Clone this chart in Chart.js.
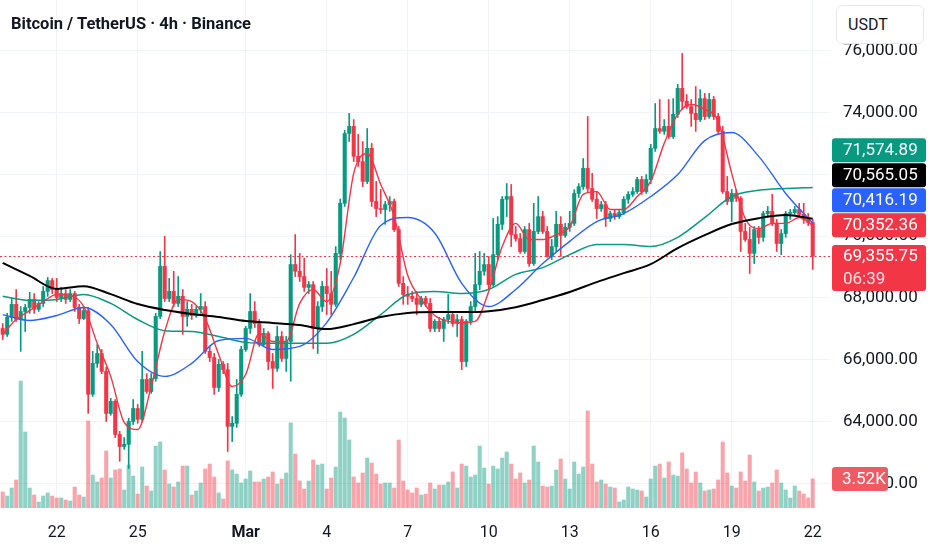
<!DOCTYPE html>
<html lang="en">
<head>
<meta charset="UTF-8">
<title>Bitcoin / TetherUS · 4h · Binance</title>
<script src="https://cdn.jsdelivr.net/npm/chart.js"></script>
<style>
    body {
        margin: 0;
        background: #ffffff;
        font-family: Roboto, "Noto Sans", sans-serif;
        color: #131722;
    }

    .wrap {
        position: relative;
        width: 932px;
        height: 550px;
        overflow: hidden;
    }

    #chart {
        position: absolute;
        left: 0;
        top: 0;
    }

    /* symbol line, top left */
    .title {
        position: absolute;
        left: 11px;
        top: 14px;
        font-size: 16.5px;
        font-weight: bold;
        line-height: 20px;
        white-space: nowrap;
    }

    /* currency button over the price scale */
    .unit {
        position: absolute;
        left: 836px;
        top: 5px;
        width: 88px;
        height: 39px;
        box-sizing: border-box;
        border: 1px solid #e6e8ee;
        border-radius: 6px;
        background: #ffffff;
        font-size: 16px;
        line-height: 37px;
        padding-left: 11px;
    }
</style>
</head>
<body>
<div class="wrap">
    <canvas id="chart" width="932" height="550"></canvas>
    <div class="title">Bitcoin / TetherUS &middot; 4h &middot; Binance</div>
    <div class="unit">USDT</div>
</div>

<script>
// 4h candles, 20 Feb 00:00 -> 22 Mar 00:00 (one row = 10 candles)
const opens = [
    67010, 66820, 67370, 67790, 67300, 67560, 67690, 67950, 67630, 67820,
    68210, 68560, 68270, 68010, 68140, 67950, 68140, 67690, 67330, 67590,
    64880, 65880, 66200, 65620, 64260, 64650, 63580, 63190, 63260, 64000,
    64420, 64070, 65360, 64970, 65390, 67400, 69020, 67980, 68210, 67820,
    68050, 67400, 67630, 67430, 67630, 67720, 66270, 66070, 65100, 65850,
    65680, 63840, 63940, 64880, 66330, 67010, 67560, 67170, 66490, 66850,
    65940, 65720, 66750, 66040, 66590, 69080, 68860, 68690, 68340, 68430,
    67010, 67720, 68370, 68140, 67790, 69440, 71060, 73320, 73550, 72580,
    72410, 71770, 72840, 71120, 70890, 70860, 71020, 71120, 70210, 68470,
    68110, 68050, 67980, 67790, 67980, 67820, 67010, 67240, 67010, 67300,
    67460, 67170, 67300, 65940, 67240, 67720, 68430, 68860, 69080, 68430,
    69400, 70380, 71190, 71280, 70050, 69920, 69500, 70210, 69110, 70150,
    70630, 70150, 69340, 69660, 70380, 70020, 70280, 70410, 71380, 71600,
    72190, 71540, 71190, 70890, 71020, 70570, 70730, 70630, 70760, 71190,
    71350, 71440, 71830, 71440, 71830, 72840, 73480, 73390, 73550, 73220,
    73940, 74780, 74360, 74190, 73970, 73770, 74450, 73870, 74420, 73870,
    73390, 71440, 71120, 71380, 71220, 70150, 69890, 69440, 70210, 69960,
    70730, 70800, 70410, 69760, 70080, 70730, 70760, 70860, 70700, 70540,
    70440
];
const highs = [
    67170, 67500, 67980, 68270, 67720, 67790, 68180, 68140, 67880, 68370,
    68660, 68630, 68630, 68340, 68270, 68270, 68210, 67790, 67720, 67690,
    66270, 66490, 66330, 65750, 64750, 64710, 63680, 63480, 64100, 64710,
    64550, 66270, 65550, 65550, 67500, 69500, 69990, 68630, 68860, 68690,
    68270, 67880, 67790, 67720, 68140, 67880, 66430, 66200, 66010, 65940,
    65880, 64160, 65360, 66430, 67080, 68140, 67880, 67300, 67010, 66910,
    66200, 67080, 66910, 66750, 69400, 70050, 69440, 69280, 68530, 68530,
    67880, 68530, 68950, 68860, 69660, 71200, 73420, 73970, 73770, 73290,
    73060, 73480, 73000, 71770, 71510, 71120, 71280, 71200, 70310, 68690,
    68370, 68210, 68210, 68050, 68050, 67980, 67300, 67370, 67370, 68110,
    67560, 67460, 67400, 67300, 67880, 69440, 69500, 69440, 69340, 70570,
    70630, 71280, 71700, 71670, 70310, 70080, 70310, 70410, 71060, 71280,
    70800, 70310, 69890, 70800, 70630, 70410, 70800, 71500, 71700, 72510,
    73870, 72030, 71440, 71120, 71120, 70800, 70860, 70860, 71280, 71440,
    71570, 71900, 71930, 71990, 72970, 74290, 74420, 73770, 74420, 74450,
    74910, 75910, 74580, 74420, 74840, 74740, 74620, 74620, 74520, 73970,
    73550, 71930, 71510, 71510, 71280, 70410, 70280, 70310, 70310, 70800,
    70960, 71350, 70540, 70210, 70800, 70860, 70960, 71060, 71060, 70730,
    70540
];
const lows = [
    66650, 66750, 67240, 67240, 66270, 66910, 67500, 67500, 67560, 67720,
    68050, 68140, 67880, 67880, 67820, 67880, 67560, 67170, 67300, 64260,
    64810, 65750, 65550, 64000, 64200, 63480, 62710, 63100, 62480, 63900,
    63940, 64000, 64910, 64910, 65300, 67330, 67880, 67880, 67720, 67720,
    66820, 67080, 67300, 67370, 67500, 66200, 65940, 64880, 64970, 65550,
    63030, 63350, 63810, 64810, 66270, 66850, 67040, 66430, 66430, 65680,
    65070, 65620, 65940, 65620, 65300, 68690, 68530, 68210, 68140, 66360,
    66200, 67560, 67460, 67460, 67720, 69240, 70960, 73060, 72410, 72250,
    71600, 71700, 70960, 70630, 70730, 70380, 70800, 70150, 68370, 67790,
    67790, 67880, 67460, 67720, 67720, 66910, 66910, 66910, 66590, 67170,
    67080, 66750, 65680, 65780, 67140, 67560, 68270, 68730, 68270, 68370,
    69240, 70210, 70630, 69660, 69830, 69440, 69440, 69020, 69050, 70080,
    70080, 69310, 69240, 69500, 69340, 69960, 70150, 70340, 71250, 71510,
    71440, 71120, 70570, 70800, 70310, 70470, 70540, 70570, 70700, 71060,
    71280, 71380, 71350, 71380, 71700, 72740, 73320, 73290, 73160, 73160,
    73840, 74100, 74130, 73550, 73390, 73710, 73770, 73810, 73770, 73320,
    71380, 71020, 70470, 71120, 69500, 69830, 68790, 69110, 69760, 69830,
    70600, 70340, 69500, 69400, 69960, 70540, 70700, 70630, 70410, 70340,
    68920
];
const closes = [
    66820, 67370, 67790, 67300, 67560, 67690, 67950, 67630, 67820, 68210,
    68560, 68270, 68010, 68140, 67950, 68140, 67690, 67330, 67590, 64880,
    65880, 66200, 65620, 64260, 64650, 63580, 63190, 63260, 64000, 64420,
    64070, 65360, 64970, 65390, 67400, 69020, 67980, 68210, 67820, 68050,
    67400, 67630, 67430, 67630, 67720, 66270, 66070, 65100, 65850, 65680,
    63840, 63940, 64880, 66330, 67010, 67560, 67170, 66490, 66850, 65940,
    65720, 66750, 66040, 66590, 69080, 68860, 68690, 68340, 68430, 67010,
    67720, 68370, 68140, 67790, 69440, 71060, 73320, 73550, 72580, 72410,
    71770, 72840, 71120, 70890, 70860, 71020, 71120, 70210, 68470, 68110,
    68050, 67980, 67790, 67980, 67820, 67010, 67240, 67010, 67300, 67460,
    67170, 67300, 65940, 67240, 67720, 68430, 68860, 69080, 68430, 69400,
    70380, 71190, 71280, 70050, 69920, 69500, 70210, 69110, 70150, 70630,
    70150, 69340, 69660, 70380, 70020, 70280, 70410, 71380, 71600, 72190,
    71540, 71190, 70890, 71020, 70570, 70730, 70630, 70760, 71190, 71350,
    71440, 71830, 71440, 71830, 72840, 73480, 73390, 73550, 73220, 73940,
    74780, 74360, 74190, 73970, 73770, 74450, 73870, 74420, 73870, 73390,
    71440, 71120, 71380, 71220, 70150, 69890, 69440, 70210, 69960, 70730,
    70800, 70410, 69760, 70080, 70730, 70760, 70860, 70700, 70540, 70440,
    69355.75
];
const volumes = [
    1940, 1450, 2420, 3390, 15370, 9200, 2420, 1570, 730, 1450,
    1820, 1450, 1210, 1210, 970, 850, 2540, 1570, 1330, 10530,
    3990, 3150, 3630, 6900, 3630, 4600, 4720, 2180, 5200, 3870,
    1690, 4960, 2660, 2060, 7500, 7990, 4600, 2900, 2540, 3150,
    5080, 5080, 1570, 2060, 3030, 4720, 5320, 3750, 1820, 1090,
    5690, 4600, 4110, 3030, 3510, 4480, 3150, 3150, 3510, 3750,
    4360, 2900, 3510, 4240, 10290, 6530, 3270, 2300, 3270, 5810,
    5200, 5320, 2300, 3630, 4960, 11620, 10890, 8230, 3750, 3030,
    4240, 6050, 5450, 4110, 2900, 3030, 3030, 2420, 8230, 3270,
    2180, 1820, 2420, 1570, 1690, 3030, 2300, 2780, 2780, 3150,
    4360, 2420, 5320, 5080, 3750, 3990, 7500, 4840, 2900, 5080,
    4720, 6050, 6780, 5320, 3510, 4240, 3030, 3390, 7500, 5570,
    2660, 2540, 2660, 4600, 5930, 3510, 2300, 5570, 4110, 4960,
    11740, 5320, 3150, 3390, 2900, 2540, 2420, 730, 970, 2540,
    2300, 2180, 2060, 1330, 3510, 5080, 5320, 3630, 5570, 3990,
    3870, 6660, 4720, 3030, 4360, 3030, 2060, 2180, 2300, 3390,
    7990, 4240, 2660, 2420, 4360, 3270, 6410, 3150, 2060, 2420,
    2540, 3030, 4600, 3030, 2180, 1210, 2660, 2060, 1690, 1210,
    3520
];

// moving averages: red every 3 candles, the others once a day
const maFast = [
    66820, 67300, 67590, 67880, 68110, 68080, 67720, 66530, 65460, 63970,
    63740, 65130, 66910, 67950, 67880, 67330, 66170, 65130, 65520, 66850,
    66590, 66590, 67820, 68270, 67880, 69110, 72030, 72670, 71670, 70630,
    68730, 67950, 67430, 67240, 67200, 67240, 68210, 69660, 70410, 69890,
    69890, 70050, 70310, 71350, 71440, 70860, 70860, 71280, 71770, 73000,
    73940, 74260, 74100, 73710, 72030, 70570, 70240, 70410, 70410, 70600,
    70352.36
];
const maBlue = [
    67460, 67270, 67430, 67690, 67140, 65940, 65460, 65880, 66620, 66690,
    66330, 66430, 67200, 68660, 70340, 70600, 70100, 68470, 67720, 68270,
    69110, 69830, 70470, 70730, 71280, 71990, 73090, 73350, 72580, 71380,
    70416.19
];
const maGreen = [
    68050, 67920, 67950, 68110, 67820, 67300, 66940, 66910, 66750, 66560,
    66530, 66530, 66530, 66820, 67460, 68110, 68210, 68140, 68270, 68760,
    68980, 69400, 69730, 69730, 69660, 69960, 70600, 71280, 71480, 71540,
    71574.89
];
const maBlack = [
    69130, 68710, 68290, 68380, 68120, 67800, 67610, 67480, 67380, 67250,
    67190, 67120, 66990, 67150, 67380, 67510, 67540, 67540, 67570, 67700,
    67930, 68190, 68510, 68800, 69090, 69610, 70030, 70390, 70580, 70680,
    70565.05
];

const priceTicks = [62000, 64000, 66000, 68000, 70000, 72000, 74000, 76000];
const dayTickIdx = [12, 30, 54, 72, 90, 108, 126, 144, 162, 180];
const dayLabels = ['22', '25', 'Mar', '4', '7', '10', '13', '16', '19', '22'];
const countdown = '06:39';

const GREEN = '#089981';
const RED = '#f23645';
const BLUE = '#2962ff';
const GRID = '#f0f3fa';

const up = closes.map((c, i) => c >= opens[i]);
const candleColors = up.map(u => u ? GREEN : RED);
const volColors = up.map(u => u ? 'rgba(8, 153, 129, 0.45)' : 'rgba(242, 54, 69, 0.45)');

const fmt = v => v.toLocaleString('en-US', { minimumFractionDigits: 2, maximumFractionDigits: 2 });

function box(ctx, x, y, w, h, r, fill) {
    ctx.fillStyle = fill;
    ctx.beginPath();
    ctx.moveTo(x + r, y);
    ctx.lineTo(x + w - r, y);
    ctx.quadraticCurveTo(x + w, y, x + w, y + r);
    ctx.lineTo(x + w, y + h - r);
    ctx.quadraticCurveTo(x + w, y + h, x + w - r, y + h);
    ctx.lineTo(x + r, y + h);
    ctx.quadraticCurveTo(x, y + h, x, y + h - r);
    ctx.lineTo(x, y + r);
    ctx.quadraticCurveTo(x, y, x + r, y);
    ctx.fill();
}

// last price line + labels on the price scale
const overlay = {
    id: 'overlay',
    beforeDatasetsDraw(chart) {
        const { ctx, chartArea, scales } = chart;
        const py = Math.round(scales.y.getPixelForValue(closes[closes.length - 1])) + 0.5;
        ctx.save();
        ctx.strokeStyle = RED;
        ctx.lineWidth = 1.2;
        ctx.setLineDash([2, 2.5]);
        ctx.beginPath();
        ctx.moveTo(chartArea.left, py);
        ctx.lineTo(chartArea.right, py);
        ctx.stroke();
        ctx.restore();
    },
    afterDraw(chart) {
        const { ctx, chartArea, scales } = chart;
        const x0 = chartArea.right + 2;
        const w = 94;
        const last = closes[closes.length - 1];
        ctx.save();
        ctx.font = '17px Roboto, "Noto Sans", sans-serif';
        ctx.textBaseline = 'middle';
        ctx.textAlign = 'left';

        // current price, two lines
        const py = scales.y.getPixelForValue(last);
        let top = py - 11;
        box(ctx, x0, top, w, 46, 3, RED);
        ctx.fillStyle = '#ffffff';
        ctx.fillText(fmt(last), x0 + 11, py + 1);
        ctx.fillStyle = 'rgba(255,255,255,0.85)';
        ctx.fillText(countdown, x0 + 11, py + 24);

        // indicator values, pushed up so they do not overlap
        const tags = [
            { v: maFast[maFast.length - 1], c: RED },
            { v: maBlue[maBlue.length - 1], c: BLUE },
            { v: maBlack[maBlack.length - 1], c: '#000000' },
            { v: maGreen[maGreen.length - 1], c: GREEN }
        ];
        tags.forEach(t => {
            const cy = Math.min(scales.y.getPixelForValue(t.v), top - 13);
            top = cy - 12;
            box(ctx, x0, top, w, 24, 3, t.c);
            ctx.fillStyle = '#ffffff';
            ctx.fillText(fmt(t.v), x0 + 11, cy + 1);
        });

        // volume of the last bar
        const vy = scales.vol.getPixelForValue(volumes[volumes.length - 1]);
        box(ctx, x0, vy - 12, 56, 24, 3, '#f05a62');
        ctx.fillStyle = '#ffffff';
        ctx.fillText((volumes[volumes.length - 1] / 1000).toFixed(2) + 'K', x0 + 10, vy + 1);
        ctx.restore();
    }
};

const idx = opens.map((o, i) => i);

new Chart(document.getElementById('chart'), {
    type: 'bar',
    data: {
        datasets: [
            {
                type: 'line', label: 'MA fast',
                data: maFast.map((v, k) => ({ x: k * 3, y: v })),
                borderColor: RED, borderWidth: 1.4, pointRadius: 0,
                cubicInterpolationMode: 'monotone', order: 2
            },
            {
                type: 'line', label: 'MA blue',
                data: maBlue.map((v, k) => ({ x: k * 6, y: v })),
                borderColor: BLUE, borderWidth: 1.4, pointRadius: 0,
                cubicInterpolationMode: 'monotone', order: 3
            },
            {
                type: 'line', label: 'MA green',
                data: maGreen.map((v, k) => ({ x: k * 6, y: v })),
                borderColor: GREEN, borderWidth: 1.5, pointRadius: 0,
                cubicInterpolationMode: 'monotone', order: 4
            },
            {
                type: 'line', label: 'MA black',
                data: maBlack.map((v, k) => ({ x: k * 6, y: v })),
                borderColor: '#000000', borderWidth: 2, pointRadius: 0,
                cubicInterpolationMode: 'monotone', order: 1
            },
            {
                label: 'body',
                data: idx.map(i => ({ x: i, y: [opens[i], closes[i]] })),
                backgroundColor: candleColors,
                barThickness: 3.4, minBarLength: 1, grouped: false, order: 5
            },
            {
                label: 'wick',
                data: idx.map(i => ({ x: i, y: [lows[i], highs[i]] })),
                backgroundColor: candleColors,
                barThickness: 1, grouped: false, order: 6
            },
            {
                label: 'volume', yAxisID: 'vol',
                data: idx.map(i => ({ x: i, y: volumes[i] })),
                backgroundColor: volColors,
                barThickness: 3.4, grouped: false, order: 10
            }
        ]
    },
    options: {
        responsive: false,
        animation: false,
        events: [],
        layout: { padding: 0, autoPadding: false },
        plugins: {
            legend: { display: false },
            tooltip: { enabled: false }
        },
        scales: {
            x: {
                type: 'linear',
                min: -0.6,
                max: 183.84,
                offset: false,
                afterBuildTicks: s => { s.ticks = dayTickIdx.map(v => ({ value: v })); },
                afterFit: s => {
                    s.height = 42;
                    s.paddingLeft = 0;
                    s.paddingRight = 0;
                },
                grid: { color: GRID, drawTicks: false, offset: false },
                border: { display: false },
                ticks: {
                    padding: 15,
                    color: '#131722',
                    maxRotation: 0,
                    autoSkip: false,
                    font: c => ({
                        family: 'Roboto, "Noto Sans", sans-serif',
                        size: 16,
                        weight: dayLabels[c.index] === 'Mar' ? 'bold' : 'normal'
                    }),
                    callback: (v, i) => dayLabels[i]
                }
            },
            y: {
                position: 'right',
                min: 61200,
                max: 77640,
                afterBuildTicks: s => { s.ticks = priceTicks.map(v => ({ value: v })); },
                afterFit: s => {
                    // full-height pane: no room kept for half labels
                    s.width = 102;
                    s.paddingTop = 0;
                    s.paddingBottom = 0;
                },
                grid: { color: GRID, drawTicks: false },
                border: { display: false },
                ticks: {
                    padding: 13,
                    color: '#131722',
                    font: { family: 'Roboto, "Noto Sans", sans-serif', size: 17 },
                    callback: v => fmt(v)
                }
            },
            vol: {
                display: false,
                min: 0,
                max: 61470
            }
        }
    },
    plugins: [overlay]
});
</script>
</body>
</html>
